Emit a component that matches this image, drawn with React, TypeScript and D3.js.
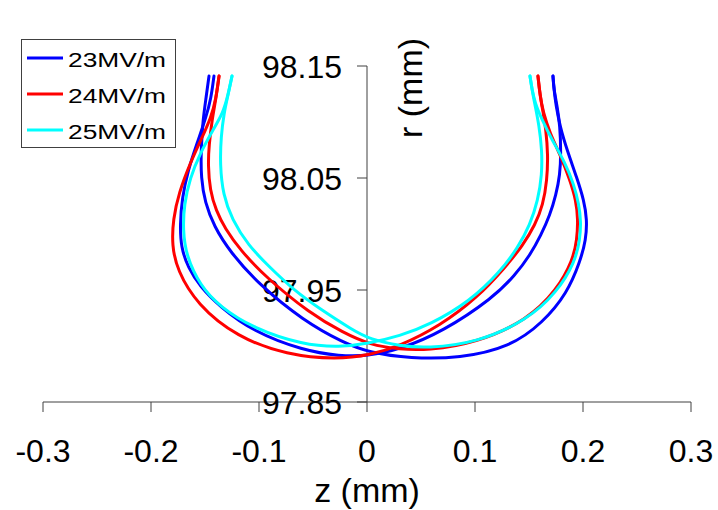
import React from "react";
import * as d3 from "d3";

const W = 718;
const H = 510;

const xTicks = [-0.3, -0.2, -0.1, 0, 0.1, 0.2, 0.3];
const xTickLabels = ["-0.3", "-0.2", "-0.1", "0", "0.1", "0.2", "0.3"];
const yTicks = [97.85, 97.95, 98.05, 98.15];
const yTickLabels = ["97.85", "97.95", "98.05", "98.15"];

const seriesNames = ["23MV/m", "24MV/m", "25MV/m"];
const seriesColors = ["#0000FF", "#FF0000", "#00FFFF"];

// 23MV/m branch A (inner-left -> outer-right)
const z23a = [-0.1463,-0.1491,-0.1519,-0.1537,-0.1537,-0.15,-0.1417,-0.1269,-0.0991,-0.0593,-0.0222,0.0028,0.0398,0.0861,0.1324,0.163,0.1852,0.1972,0.2028,0.2037,0.2009,0.1944,0.1852,0.1787,0.175,0.1731,0.1722];
const r23a = [98.141,98.121,98.102,98.075,98.050,98.028,98.007,97.984,97.954,97.923,97.903,97.894,97.889,97.889,97.899,97.921,97.947,97.975,97.995,98.013,98.030,98.050,98.075,98.096,98.115,98.129,98.141];
// 23MV/m branch B (outer-left -> inner-right)
const z23b = [-0.1417,-0.1444,-0.1491,-0.1574,-0.1657,-0.1713,-0.1731,-0.1722,-0.1657,-0.1546,-0.1361,-0.1056,-0.0593,-0.025,0,0.0306,0.0704,0.1167,0.137,0.1509,0.1611,0.1694,0.175,0.1787,0.1796,0.1787,0.1759,0.1731,0.1722];
const r23b = [98.141,98.121,98.104,98.081,98.057,98.032,98.008,97.988,97.970,97.953,97.935,97.913,97.896,97.891,97.891,97.897,97.913,97.943,97.963,97.981,97.999,98.017,98.035,98.053,98.072,98.097,98.115,98.129,98.141];

// 24MV/m
const z24a = [-0.137,-0.1398,-0.1435,-0.1463,-0.1472,-0.1454,-0.1398,-0.1315,-0.1176,-0.0944,-0.0528,-0.0222,0.0028,0.0306,0.0556,0.1019,0.1481,0.1759,0.1907,0.1944,0.1954,0.1935,0.188,0.1787,0.1694,0.163,0.1602,0.1583];
const r24a = [98.141,98.121,98.102,98.079,98.062,98.039,98.021,98.005,97.986,97.962,97.929,97.912,97.901,97.897,97.896,97.903,97.923,97.950,97.977,97.995,98.013,98.030,98.048,98.071,98.090,98.109,98.124,98.141];
const z24b = [-0.137,-0.1398,-0.1444,-0.1528,-0.1639,-0.1741,-0.1796,-0.1806,-0.1759,-0.1574,-0.1204,-0.0741,-0.0278,0.0028,0.0306,0.0676,0.1019,0.1278,0.1444,0.1556,0.163,0.1667,0.1676,0.1657,0.163,0.1602,0.1583];
const r24b = [98.141,98.121,98.104,98.086,98.063,98.037,98.013,97.990,97.968,97.937,97.908,97.892,97.888,97.892,97.900,97.918,97.943,97.970,97.990,98.008,98.026,98.048,98.071,98.093,98.109,98.124,98.141];

// 25MV/m
const z25a = [-0.125,-0.1287,-0.1324,-0.1352,-0.1361,-0.1333,-0.125,-0.1102,-0.0898,-0.0667,-0.0435,-0.013,0.0028,0.0306,0.0556,0.1019,0.1481,0.1759,0.1926,0.1972,0.1981,0.1963,0.1917,0.1833,0.1713,0.1611,0.1556,0.1528,0.1509];
const r25a = [98.141,98.124,98.108,98.087,98.062,98.035,98.013,97.990,97.970,97.949,97.933,97.914,97.906,97.900,97.898,97.903,97.923,97.948,97.975,97.995,98.011,98.026,98.044,98.064,98.084,98.104,98.117,98.129,98.141];
const z25b = [-0.125,-0.1287,-0.1333,-0.1426,-0.1546,-0.1639,-0.1694,-0.1704,-0.1676,-0.1546,-0.1361,-0.1056,-0.0593,-0.025,0,0.0306,0.0583,0.0954,0.1231,0.1398,0.1509,0.1583,0.162,0.162,0.1593,0.1556,0.1528,0.1509];
const r25b = [98.141,98.124,98.108,98.093,98.072,98.050,98.026,98.004,97.981,97.954,97.935,97.916,97.901,97.899,97.902,97.909,97.919,97.940,97.966,97.988,98.008,98.030,98.053,98.075,98.097,98.115,98.129,98.141];

const seriesBranches = [
  [[z23a, r23a], [z23b, r23b]],
  [[z24a, r24a], [z24b, r24b]],
  [[z25a, r25a], [z25b, r25b]],
];

export default function App() {
  const x = d3.scaleLinear().domain([-0.3, 0.3]).range([43, 691]);
  const y = d3.scaleLinear().domain([97.85, 98.15]).range([402, 66]);
  const line = d3
    .line<[number, number]>()
    .x((d) => x(d[0]))
    .y((d) => y(d[1]))
    .curve(d3.curveBasis);

  const font = "Arial, 'Liberation Sans', Helvetica, sans-serif";
  const axisColor = "#404040";

  return (
    <svg
      width={W}
      height={H}
      style={{ position: "absolute", left: 0, top: 0, background: "#fff" }}
      fontFamily={font}
    >
      <rect x={0} y={0} width={W} height={H} fill="#fff" />
      {/* x axis */}
      <line x1={x(-0.3)} x2={x(0.3)} y1={y(97.85)} y2={y(97.85)} stroke={axisColor} strokeWidth={1} />
      {xTicks.map((t, i) => (
        <g key={"xt" + i}>
          <line x1={x(t)} x2={x(t)} y1={y(97.85)} y2={y(97.85) + 10} stroke={axisColor} strokeWidth={1} />
          <text x={x(t)} y={462} fontSize={32} textAnchor="middle" fill="#000">
            {xTickLabels[i]}
          </text>
        </g>
      ))}
      <text x={x(0)} y={502} fontSize={34} textAnchor="middle" fill="#000">
        z (mm)
      </text>
      {/* y axis */}
      <line x1={x(0)} x2={x(0)} y1={y(98.15)} y2={y(97.85)} stroke={axisColor} strokeWidth={1} />
      {yTicks.map((t, i) => (
        <g key={"yt" + i}>
          <line x1={x(0) - 10} x2={x(0)} y1={y(t)} y2={y(t)} stroke={axisColor} strokeWidth={1} />
          <text x={342} y={y(t) + 12} fontSize={32} textAnchor="end" fill="#000">
            {yTickLabels[i]}
          </text>
        </g>
      ))}
      <text
        transform={`translate(422, 88) rotate(-90)`}
        fontSize={34}
        textAnchor="middle"
        fill="#000"
      >
        r (mm)
      </text>
      {/* series */}
      {seriesBranches.map((branches, si) => (
        <g key={"s" + si}>
          {branches.map(([zs, rs], bi) => (
            <path
              key={bi}
              d={line(zs.map((z, k) => [z, rs[k]] as [number, number])) || ""}
              fill="none"
              stroke={seriesColors[si]}
              strokeWidth={3}
              strokeLinejoin="round"
              strokeLinecap="round"
            />
          ))}
        </g>
      ))}
      {/* legend */}
      <rect x={21.5} y={39.5} width={154} height={108} fill="#fff" stroke="#404040" strokeWidth={1} />
      {seriesNames.map((n, i) => (
        <g key={"lg" + i}>
          <line x1={27} x2={63} y1={58 + i * 36} y2={58 + i * 36} stroke={seriesColors[i]} strokeWidth={3} />
          <text
            x={68}
            y={67 + i * 36}
            fontSize={20.5}
            textLength={98}
            lengthAdjust="spacingAndGlyphs"
            fill="#000"
          >
            {n}
          </text>
        </g>
      ))}
    </svg>
  );
}
